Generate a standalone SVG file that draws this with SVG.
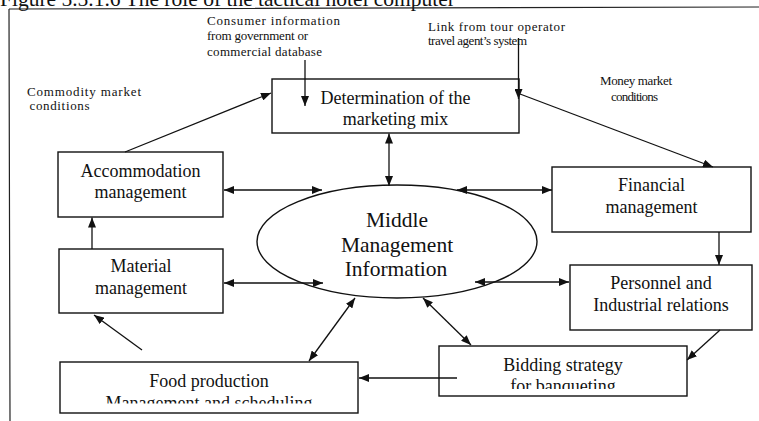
<svg xmlns="http://www.w3.org/2000/svg" width="759" height="421" viewBox="0 0 759 421">
  <style>
    .box { fill: #fff; stroke: #111; stroke-width: 1.4; }
    .ell { fill: none; stroke: #111; stroke-width: 1.4; }
    .frame { fill: none; stroke: #222; stroke-width: 1.2; }
    text { font-family: "Liberation Serif", "DejaVu Serif", "Noto Serif", "Times New Roman", Times, serif; fill: #111; }
    .lbl { font-size: 18px; text-anchor: middle; }
    .big { font-size: 21.5px; text-anchor: middle; }
    .note { font-size: 13px; }
    .title { font-size: 21.5px; }
    .conn line { stroke: #111; stroke-width: 1.3; fill: none; }
    .one { marker-end: url(#arrow); }
    .two { marker-start: url(#arrow); marker-end: url(#arrow); }
  </style>
  <defs>
    <marker id="arrow" markerUnits="userSpaceOnUse" markerWidth="11" markerHeight="8" refX="10" refY="4" orient="auto-start-reverse">
      <path d="M0,0 L10,4 L0,8 z" fill="#111"/>
    </marker>
    <clipPath id="clipFood"><rect x="0" y="0" width="759" height="403.5"/></clipPath>
    <clipPath id="clipBid"><rect x="0" y="0" width="759" height="389"/></clipPath>
  </defs>

  <rect width="759" height="421" fill="#fff"/>

  <!-- caption and frame -->
  <text class="title" x="0" y="5.5" textLength="455" font-family="Liberation Serif, DejaVu Serif, serif">Figure 5.5.1.6 The role of the tactical hotel computer</text>
  <path class="frame" d="M9,9 L759,7 M9,9 L10,421"/>

  <!-- outside inputs -->
  <g id="commodity" font-family="Liberation Serif, DejaVu Serif, serif">
    <text class="note" x="27" y="96" textLength="114">Commodity market</text>
    <text class="note" x="29.5" y="110" textLength="60">conditions</text>
  </g>
  <g id="consumer">
    <text class="note" x="207" y="24.5" textLength="133">Consumer information</text>
    <text class="note" x="207" y="40" textLength="101">from government or</text>
    <text class="note" x="207" y="55.5" textLength="115">commercial database</text>
  </g>
  <g id="tourlink">
    <text class="note" x="428" y="30.5" textLength="137">Link from tour operator</text>
    <text class="note" x="428" y="45" textLength="99">travel agent’s system</text>
  </g>
  <g id="money">
    <text class="note" x="600" y="85" textLength="72">Money market</text>
    <text class="note" x="611" y="100.5" textLength="47">conditions</text>
  </g>

  <!-- nodes -->
  <g id="marketing">
    <rect class="box" x="272" y="79" width="247" height="54"/>
    <text class="lbl" x="395.5" y="103.5">Determination of the</text>
    <text class="lbl" x="395.5" y="124.5">marketing mix</text>
  </g>
  <g id="middle">
    <ellipse class="ell" cx="397" cy="241.5" rx="140" ry="56.5"/>
    <text class="big" x="397" y="227">Middle</text>
    <text class="big" x="397" y="251.5">Management</text>
    <text class="big" x="396" y="276">Information</text>
  </g>
  <g id="accommodation">
    <rect class="box" x="58" y="152" width="165" height="65"/>
    <text class="lbl" x="140.5" y="177">Accommodation</text>
    <text class="lbl" x="140.5" y="198">management</text>
  </g>
  <g id="material">
    <rect class="box" x="59" y="249" width="164" height="64"/>
    <text class="lbl" x="141" y="272">Material</text>
    <text class="lbl" x="141" y="294">management</text>
  </g>
  <g id="financial">
    <rect class="box" x="552" y="167" width="199" height="65"/>
    <text class="lbl" x="651.5" y="191">Financial</text>
    <text class="lbl" x="651.5" y="213">management</text>
  </g>
  <g id="personnel">
    <rect class="box" x="570" y="265" width="182" height="65"/>
    <text class="lbl" x="661" y="289">Personnel and</text>
    <text class="lbl" x="661" y="310.5">Industrial relations</text>
  </g>
  <g id="bidding">
    <rect class="box" x="439" y="346" width="248" height="50"/>
    <text class="lbl" x="563" y="370.5">Bidding strategy</text>
    <text class="lbl" x="563" y="392" clip-path="url(#clipBid)">for banqueting</text>
  </g>
  <g id="food">
    <rect class="box" x="60" y="362" width="298" height="51"/>
    <text class="lbl" x="209" y="387">Food production</text>
    <text class="lbl" x="209" y="408.5" clip-path="url(#clipFood)">Management and scheduling</text>
  </g>

  <!-- connectors -->
  <g id="connectors" class="conn">
    <line class="one" x1="125" y1="152" x2="271" y2="93"/>
    <line class="one" x1="305" y1="60" x2="305" y2="106"/>
    <line class="one" x1="518.5" y1="38" x2="518.5" y2="99"/>
    <line class="one" x1="520" y1="94" x2="713" y2="167"/>
    <line class="two" x1="389" y1="133.5" x2="389" y2="186"/>
    <line class="two" x1="224" y1="190" x2="322" y2="190"/>
    <line class="two" x1="457" y1="190" x2="552" y2="190"/>
    <line class="one" x1="92" y1="249" x2="92" y2="217.5"/>
    <line class="two" x1="224" y1="283" x2="323" y2="283"/>
    <line class="two" x1="475" y1="282" x2="569" y2="282"/>
    <line class="one" x1="719" y1="232" x2="719" y2="265"/>
    <line class="one" x1="720" y1="330" x2="687" y2="360"/>
    <line class="two" x1="423" y1="298" x2="471" y2="345"/>
    <line class="two" x1="355" y1="298" x2="309" y2="361"/>
    <line class="one" x1="457" y1="378" x2="359" y2="378"/>
    <line class="one" x1="142" y1="350" x2="94" y2="315"/>
  </g>
</svg>
